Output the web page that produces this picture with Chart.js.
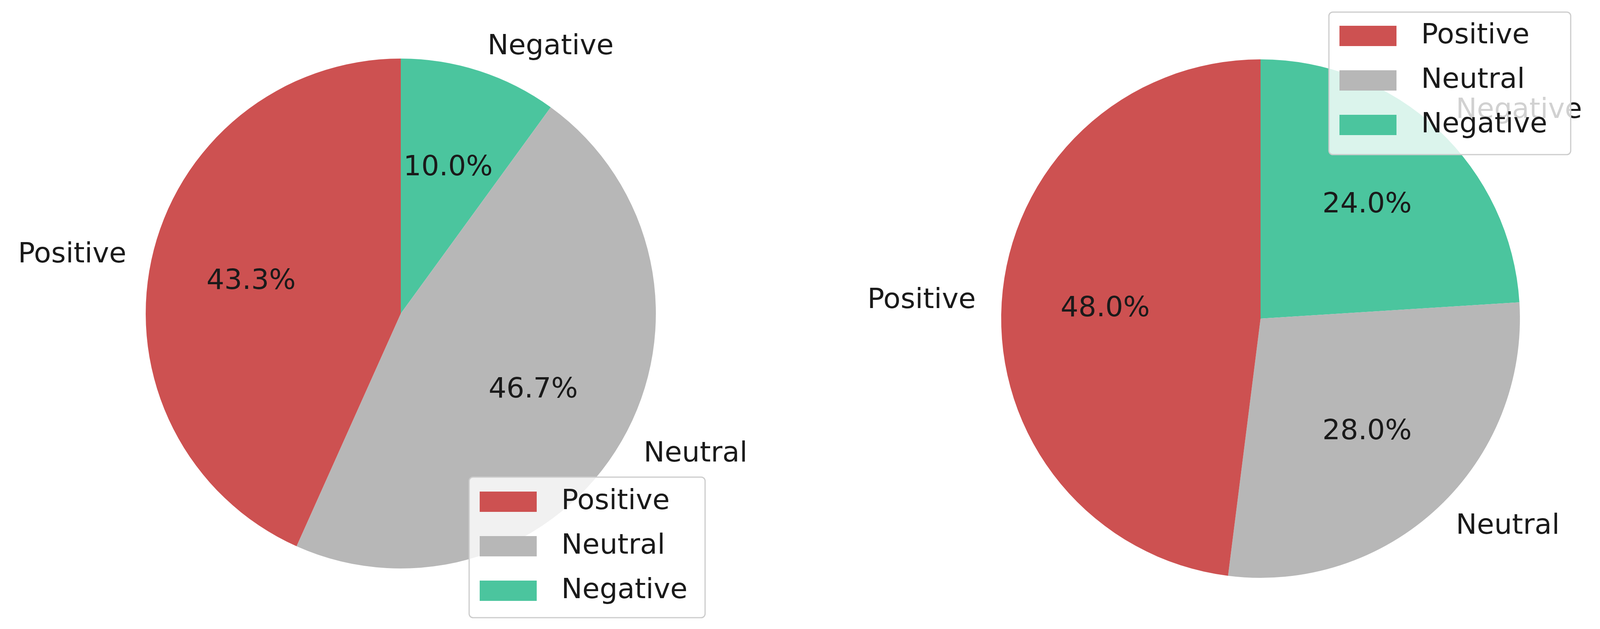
<!DOCTYPE html>
<html>
<head>
<meta charset="utf-8">
<script src="https://cdn.jsdelivr.net/npm/chart.js@4"></script>
<style>
  body { margin: 0; background: #fff; }
  canvas { position: absolute; top: 0; }
</style>
</head>
<body>
<canvas id="pieLeft" width="2056" height="1611" style="left:0"></canvas>
<canvas id="pieRight" width="2057" height="1611" style="left:2056px"></canvas>
<script>
// legend order (matplotlib counter-clockwise order)
const categories = ["Positive", "Neutral", "Negative"];
const leftValues = [43.3, 46.7, 10.0];
const rightValues = [48.0, 28.0, 24.0];
const colors = ["#cd5151", "#b7b7b7", "#4bc59e"];

const FONT = "72px 'DejaVu Sans'";

// chart.js draws clockwise, matplotlib counter-clockwise -> reverse
function rev(a) { return a.slice().reverse(); }

const pieLabels = {
    id: "pieLabels",
    afterDatasetsDraw(chart, args, opts) {
        const ctx = chart.ctx;
        const meta = chart.getDatasetMeta(0);
        const labels = chart.data.labels;
        const vals = chart.data.datasets[0].data;
        ctx.save();
        ctx.font = FONT;
        ctx.fillStyle = "#1a1a1a";
        ctx.textBaseline = "middle";
        meta.data.forEach(function (arc, i) {
            const p = arc.getProps(["x", "y", "startAngle", "endAngle", "outerRadius"], true);
            const mid = (p.startAngle + p.endAngle) / 2;
            const c = Math.cos(mid), s = Math.sin(mid);
            ctx.textAlign = c > 0 ? "left" : "right";
            ctx.fillText(labels[i], p.x + c * p.outerRadius * 1.1, p.y + s * p.outerRadius * 1.1);
            ctx.textAlign = "center";
            ctx.fillText(vals[i].toFixed(1) + "%", p.x + c * p.outerRadius * 0.6, p.y + s * p.outerRadius * 0.6);
        });
        // legend box
        const L = opts.legend;
        ctx.fillStyle = "rgba(255,255,255,0.8)";
        ctx.strokeStyle = "#cccccc";
        ctx.lineWidth = 3;
        ctx.beginPath();
        ctx.roundRect(L.x, L.y, L.w, L.h, 10);
        ctx.fill();
        ctx.stroke();
        ctx.textAlign = "left";
        categories.forEach(function (name, i) {
            const cy = L.y + L.first + i * L.step;
            ctx.fillStyle = colors[i];
            ctx.fillRect(L.x + 27, cy - 26, 146, 52);
            ctx.fillStyle = "#1a1a1a";
            ctx.fillText(name, L.x + 236, cy);
        });
        ctx.restore();
    }
};

function makePie(id, values, pad, legend) {
    return new Chart(document.getElementById(id).getContext("2d"), {
        type: "pie",
        data: {
            labels: rev(categories),
            datasets: [{
                data: rev(values),
                backgroundColor: rev(colors),
                borderWidth: 0
            }]
        },
        options: {
            responsive: false,
            animation: false,
            devicePixelRatio: 1,
            layout: { padding: pad },
            plugins: {
                legend: { display: false },
                tooltip: { enabled: false },
                pieLabels: { legend: legend }
            }
        },
        plugins: [pieLabels]
    });
}

makePie("pieLeft", leftValues,
    { left: 373, right: 377, top: 150, bottom: 155 },
    { x: 1201, y: 1222, w: 604, h: 360, first: 63, step: 114 });
makePie("pieRight", rightValues,
    { left: 507, right: 222, top: 152, bottom: 131 },
    { x: 1359 - 13, y: 31, w: 619, h: 365, first: 61, step: 114 });
</script>
</body>
</html>
